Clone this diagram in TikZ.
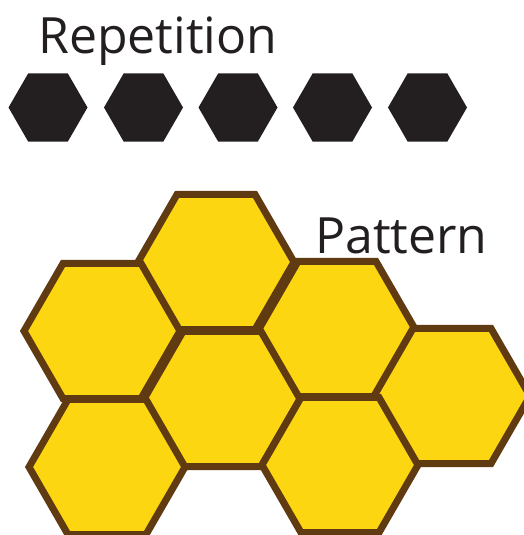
\documentclass[tikz,border=0pt]{standalone}
\usepackage{fontspec}
\setmainfont{Open Sans}
\definecolor{honey}{RGB}{253,214,18}
\definecolor{combbrown}{RGB}{96,58,16}
\definecolor{inkblack}{RGB}{35,31,32}
\tikzset{
  blackhex/.style={fill=inkblack},
  cell/.style={fill=honey,draw=combbrown,line width=7pt,line join=miter},
  title/.style={anchor=base west,inner sep=0pt,text=inkblack,font=\fontsize{50}{50}\selectfont}
}
\begin{document}
\begin{tikzpicture}[x=1pt,y=-1pt]
\useasboundingbox (0,0) rectangle (524,535);
\fill[white] (0,0) rectangle (524,535);
\clip (0,0) rectangle (524,535);
% repetition hexagons
\foreach \cx in {48,143.5,238,332.5,427.5}{
  \fill[blackhex] (\cx,107.5) +(0:39.5) -- +(60:39.5) -- +(120:39.5) -- +(180:39.5) -- +(240:39.5) -- +(300:39.5) -- cycle;
}
% honeycomb
\foreach \cx/\cy in {216/262,102/331,337/329,222/399,452/396,107/467,340/465}{
  \draw[cell] (\cx,\cy) +(0:78) -- +(60:78) -- +(120:78) -- +(180:78) -- +(240:78) -- +(300:78) -- cycle;
}
\node[title] (rep) at (38,54) {Repetition};
\node[title] (pat) at (315,253) {Pattern};
\end{tikzpicture}
\end{document}
